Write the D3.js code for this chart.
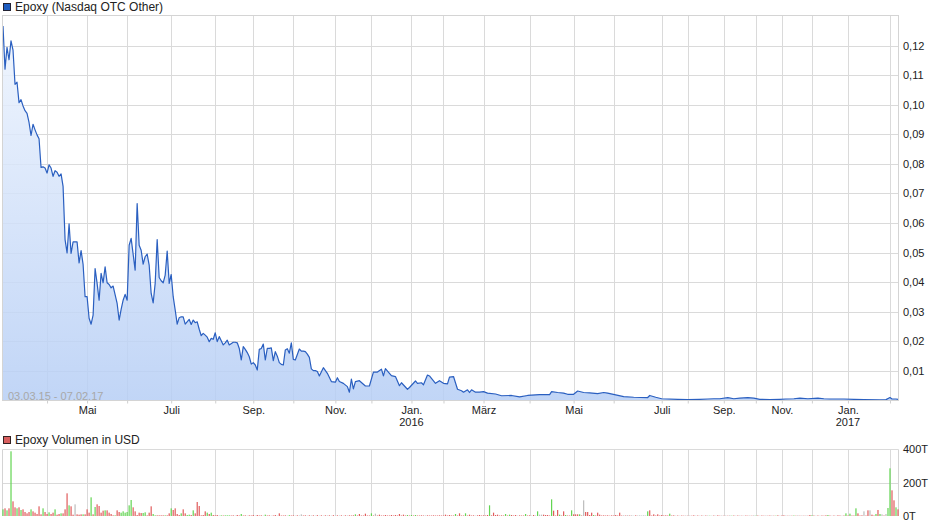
<!DOCTYPE html>
<html><head><meta charset="utf-8">
<script src="https://cdn.jsdelivr.net/npm/d3@7"></script>
<style>
body{margin:0;background:#fff;}
svg{display:block;font-family:"Liberation Sans",Arial,sans-serif;}
</style>
</head><body>
<svg id="c" width="940" height="526"></svg>
<script>
// ---- DATA (x axis = trading-day index, 03.03.15 .. 07.02.17) ----
const priceDay = [0,1,2,3,4,5,6,7,8,9,10,11,12,13,14,15,16,17,18,19,20,21,22,23,24,25,26,27,28,29,30,31,32,33,34,35,37,38,39,40,41,42,43,44,45,46,47,48,49,50,51,52,53,54,55,57,58,59,60,61,62,63,64,66,67,68,69,70,71,72,73,74,75,76,77,78,79,80,81,82,83,84,85,86,87,88,89,90,91,93,94,95,96,97,98,99,100,101,102,103,104,105,106,107,108,109,110,111,112,113,115,116,117,118,119,120,121,122,123,124,125,126,127,128,129,130,131,132,133,134,135,136,137,138,139,140,141,142,143,144,145,146,148,149,150,151,152,153,154,155,156,157,158,160,162,164,166,167,168,170,172,173,174,175,176,178,181,183,185,187,189,190,191,193,194,196,198,199,202,203,206,207,209,210,212,213,216,218,220,222,223,225,227,229,230,232,233,234,236,238,240,242,246,249,254,258,262,268,273,274,277,280,282,285,287,290,293,297,300,302,306,310,315,322,323,326,329,337,342,348,352,355,358,362,365,368,372,375,378,383,388,391,395,398,402,407,410,413,420,425,430,438,441,443,444,446,447];
const price = [.1266,.1120,.1194,.1152,.1216,.1185,.1069,.1076,.1007,.1017,.0996,.0980,.0971,.0940,.0896,.0934,.0915,.0898,.0885,.0788,.0790,.0786,.0769,.0797,.0786,.0758,.0777,.0772,.0758,.0766,.0724,.0544,.0499,.0597,.0497,.0536,.0536,.0465,.0507,.0460,.0351,.0351,.0278,.0258,.0289,.0446,.0396,.0339,.0430,.0398,.0452,.0398,.0392,.0381,.0387,.0328,.0272,.0308,.0339,.0359,.0339,.0525,.0548,.0441,.0666,.0525,.0508,.0461,.0486,.0495,.0458,.0362,.0330,.0396,.0544,.0416,.0405,.0398,.0424,.0505,.0396,.0426,.0351,.0306,.0258,.0280,.0283,.0283,.0258,.0274,.0257,.0272,.0263,.0266,.0241,.0219,.0227,.0221,.0214,.0199,.0210,.0207,.0229,.0199,.0216,.0202,.0188,.0195,.0204,.0188,.0197,.0197,.0195,.0176,.0137,.0182,.0173,.0162,.0148,.0123,.0128,.0120,.0103,.0173,.0176,.0191,.0137,.0176,.0176,.0178,.0135,.0165,.0150,.0128,.0122,.0120,.0171,.0175,.0160,.0195,.0139,.0137,.0174,.0167,.0167,.0165,.0157,.0146,.0107,.0101,.0101,.0098,.0083,.0111,.0092,.0064,.0062,.0077,.0064,.0058,.0047,.0028,.0072,.0039,.0064,.0067,.0049,.0049,.0096,.0096,.0106,.0083,.0108,.0092,.0084,.0081,.0050,.0060,.0038,.0044,.0066,.0058,.0060,.0053,.0086,.0083,.0058,.0067,.0058,.0056,.0079,.0081,.0038,.0033,.0028,.0036,.0027,.0036,.0028,.0028,.0030,.0025,.0022,.0016,.0017,.0012,.0017,.0020,.0020,.0030,.0027,.0025,.0021,.0021,.0032,.0027,.0026,.0023,.0027,.0025,.0019,.0013,.0011,.0010,.0017,.0011,.0006,.0004,.0003,.0004,.0005,.0006,.0006,.0010,.0006,.0008,.0010,.0008,.0004,.0003,.0004,.0005,.0006,.0008,.0006,.0008,.0006,.0005,.0005,.0004,.0003,.0002,.0003,.0010,.0005,.0005,.0004];

// volume in thousand USD (T), one per trading day
const volume = [
 40,46,34,46,388,88,52,46,52,36,40,24,16,24,40,28,20,12,58,10,
 46,24,12,22,12,20,40,8,12,16,16,40,136,64,58,8,70,10,8,10,
 10,10,40,20,112,10,54,70,60,20,32,34,34,20,12,4,4,34,24,20,
 28,20,24,64,96,52,28,6,20,18,18,22,4,20,58,12,4,4,4,4,
 4,4,4,16,46,36,46,12,6,16,40,16,6,8,6,34,16,84,60,4,
 6,28,20,12,20,6,4,6,3,4,3,4,4,4,3,4,2,6,3,12,
 3,4,2,4,3,6,2,6,3,4,2,8,3,4,2,3,6,2,16,3,
 3,4,2,5,3,4,2,4,3,10,3,4,2,4,3,4,2,5,2,4,
 2,4,3,4,2,5,2,4,3,4,2,4,3,4,3,4,10,3,12,3,
 3,14,3,3,16,3,14,3,8,3,3,6,3,3,6,3,6,3,12,3,
 8,3,6,3,6,3,6,3,3,4,3,3,4,3,3,4,3,3,4,3,
 3,8,3,6,3,3,12,3,16,3,3,16,3,8,3,4,2,4,6,3,
 4,3,6,64,4,20,6,8,3,4,3,12,3,8,6,3,6,2,4,3,
 3,12,3,4,2,6,3,28,8,8,8,6,6,3,100,32,3,36,8,3,
 28,6,3,3,34,10,10,10,10,3,94,24,24,6,20,6,3,20,8,3,
 4,3,4,2,4,3,6,3,20,3,4,3,5,3,4,2,4,3,4,3,
 4,3,28,34,3,10,3,10,3,6,3,4,3,14,3,4,2,3,2,3,
 2,3,2,3,2,4,2,3,2,3,2,3,3,2,2,3,2,4,2,3,
 2,3,2,4,2,3,2,3,3,2,2,3,2,3,2,4,2,3,2,3,
 2,3,2,3,3,2,2,4,2,3,4,3,2,3,2,3,2,4,2,3,
 2,3,2,6,4,3,2,3,2,3,2,4,6,3,2,3,2,4,3,2,
 3,16,3,14,3,3,46,16,3,4,28,3,34,34,8,3,12,36,12,10,
 3,12,48,286,154,94,52,40];
// g = up day, r = down day, n = unchanged
const volumeDir = [
 "grgrgrrgrgrrrrgrrrrr","grrgrrgrrgrrrgrrnrrr","grrrgrgrrrrgrrrrgrrg","gggggrrrrrggrrrggrrr",
 "rgrrgrrrrgrrggrgrrrr","rrgrgrrrngrgggrrnrrg","rrnrrrnrrrngrrnrrnrr","rrngrrnrnnrrnrnrnrnr",
 "nrnrnrnrnrnrnrrrgrrr","rrrrgrnrrrrrrrrrrrrr","rrgrgrgrrrrnrrrrrrrr","rrrrrrgrrrrgrrrrnrrr",
 "rrrgrrrrrrrgrgrrrnrr","rgrrnrngnnrrrrgrrrgr","rgrrgrrrgrnrrrrgrrrr","rrrrrrrrrrnrnrnnrnnn",
 "nngrrrrrrrrrrgrrnrnr","rnrnrrnrnrnrngnrnrrn","rnrngrnrnrnrrnrngrnr","rnrrnrgrnrrnrnrgrnrn",
 "rnrrgrnrnrrrgrnrnrrn","rgrgrrgrrrnrrnrrgrgn","rnggrrgr"].join("");

const monthStartDay = [22,42,62,84,106,125,145,166,184,204,220,240,263,285,305,329,342,360,376,389,404,422,443];
const monthLabel = ["","Mai","","Juli","","Sep.","","Nov.","","Jan.","","März","","Mai","","Juli","","Sep.","","Nov.","","Jan.",""];
const yearLabel  = ["","","","","","","","","","2016","","","","","","","","","","","","2017",""];
const priceTicks = [0.01,0.02,0.03,0.04,0.05,0.06,0.07,0.08,0.09,0.10,0.11,0.12];
const volumeTicks = [0,200,400];
const rangeLabel = "03.03.15 - 07.02.17";
const priceTitle = "Epoxy (Nasdaq OTC Other)";
const volumeTitle = "Epoxy Volumen in USD";

// ---- DRAW ----
const svg = d3.select("#c");
const L = 3, R = 898, T = 16, B = 400.5;
const VT = 449.3, VB = 516;
const gridCol = "#dadada";
const de = d3.formatLocale({decimal:",", thousands:".", grouping:[3], currency:["","€"]});
const fmt2 = de.format(".2f");

const x = d3.scaleLinear().domain([0, volume.length - 1]).range([L, R]);
const y = d3.scaleLinear().domain([0, 0.13]).range([B, T]);
const yv = d3.scaleLinear().domain([0, 400]).range([VB, VT]);

const defs = svg.append("defs");
const grad = defs.append("linearGradient").attr("id","ag")
  .attr("gradientUnits","userSpaceOnUse").attr("x1",0).attr("y1",T).attr("x2",0).attr("y2",B);
grad.append("stop").attr("offset","0%").attr("stop-color","#eff5fe");
grad.append("stop").attr("offset","100%").attr("stop-color","#b6cef5");

// legend (price)
svg.append("rect").attr("x",3.5).attr("y",3.5).attr("width",7).attr("height",7)
  .attr("fill","#1d5cc0").attr("stroke","#223").attr("stroke-width",1);
svg.append("text").attr("x",15).attr("y",10.5).attr("font-size",12).attr("fill","#222").text(priceTitle);

// price grid
const g = svg.append("g");
g.selectAll("line.h").data(priceTicks).join("line")
  .attr("x1",L).attr("x2",R).attr("y1",d=>Math.round(y(d))+0.5).attr("y2",d=>Math.round(y(d))+0.5)
  .attr("stroke",gridCol);
g.selectAll("line.v").data(monthStartDay).join("line")
  .attr("x1",d=>Math.round(x(d))+0.5).attr("x2",d=>Math.round(x(d))+0.5).attr("y1",T).attr("y2",B)
  .attr("stroke",gridCol);

// area + line
const pts = priceDay.map((d,i)=>({d, v: price[i]}));
svg.append("path").datum(pts)
  .attr("d", d3.area().x(p=>x(p.d)).y0(B).y1(p=>y(p.v)))
  .attr("fill","url(#ag)").attr("fill-opacity",0.85);
svg.append("path").datum(pts)
  .attr("d", d3.line().x(p=>x(p.d)).y(p=>y(p.v)))
  .attr("fill","none").attr("stroke","#2a5fc0").attr("stroke-width",1.2).attr("stroke-linejoin","round");

// frame
svg.append("rect").attr("x",L-0.5).attr("y",T-0.5).attr("width",R-L+1).attr("height",B-T+0.5)
  .attr("fill","none").attr("stroke","#d4d4d4");

// range label
svg.append("text").attr("x",8).attr("y",399.5).attr("font-size",11).attr("fill","#a8a8a8").text(rangeLabel);

// y axis (price)
const ya = svg.append("g").attr("transform",`translate(${R},0)`)
  .call(d3.axisRight(y).tickValues(priceTicks).tickSize(0).tickPadding(5).tickFormat(fmt2));
ya.select(".domain").remove();
ya.selectAll("text").attr("font-size",11).attr("fill","#222").attr("font-family","Liberation Sans, Arial, sans-serif");

// x axis
const xa = svg.append("g").attr("transform",`translate(0,${B})`)
  .call(d3.axisBottom(x).tickValues(monthStartDay).tickSize(3).tickPadding(3)
    .tickFormat((d,i)=>monthLabel[i]));
xa.select(".domain").remove();
xa.selectAll("line").attr("stroke","#cfcfcf");
xa.selectAll("text").attr("font-size",11).attr("fill","#222").attr("font-family","Liberation Sans, Arial, sans-serif");
svg.append("g").selectAll("text").data(monthStartDay.map((d,i)=>({d, t: yearLabel[i]})).filter(o=>o.t))
  .join("text").attr("x",o=>x(o.d)).attr("y",426).attr("text-anchor","middle")
  .attr("font-size",11).attr("fill","#222").text(o=>o.t);

// ---- volume panel ----
svg.append("rect").attr("x",3.5).attr("y",436.5).attr("width",7).attr("height",7)
  .attr("fill","#d95f5f").attr("stroke","#322").attr("stroke-width",1);
svg.append("text").attr("x",15).attr("y",444).attr("font-size",12).attr("fill","#222").text(volumeTitle);

const vg = svg.append("g");
vg.selectAll("line.h").data(volumeTicks.filter(t=>t>0)).join("line")
  .attr("x1",L).attr("x2",R).attr("y1",d=>Math.round(yv(d))+0.5).attr("y2",d=>Math.round(yv(d))+0.5)
  .attr("stroke",gridCol);
vg.selectAll("line.v").data(monthStartDay).join("line")
  .attr("x1",d=>Math.round(x(d))+0.5).attr("x2",d=>Math.round(x(d))+0.5).attr("y1",VT).attr("y2",VB)
  .attr("stroke",gridCol);
svg.append("line").attr("x1",L-0.5).attr("x2",L-0.5).attr("y1",VT).attr("y2",VB).attr("stroke","#d4d4d4");
svg.append("line").attr("x1",R+0.5).attr("x2",R+0.5).attr("y1",VT).attr("y2",VB).attr("stroke","#d4d4d4");

const dirCol = {g:"#62d552", r:"#e05c5c", n:"#bdbdbd"};
svg.append("g").selectAll("rect").data(volume).join("rect")
  .attr("x",(d,i)=>x(i)-0.6).attr("width",1.2)
  .attr("y",d=>yv(d)).attr("height",d=>VB-yv(d))
  .attr("fill",(d,i)=>dirCol[volumeDir[i]] || "#bdbdbd");

const va = svg.append("g").attr("transform",`translate(${R},0)`)
  .call(d3.axisRight(yv).tickValues(volumeTicks).tickSize(0).tickPadding(5).tickFormat(d=>d+"T"));
va.select(".domain").remove();
va.selectAll("text").attr("font-size",11).attr("fill","#222").attr("font-family","Liberation Sans, Arial, sans-serif");
</script>
</body></html>
